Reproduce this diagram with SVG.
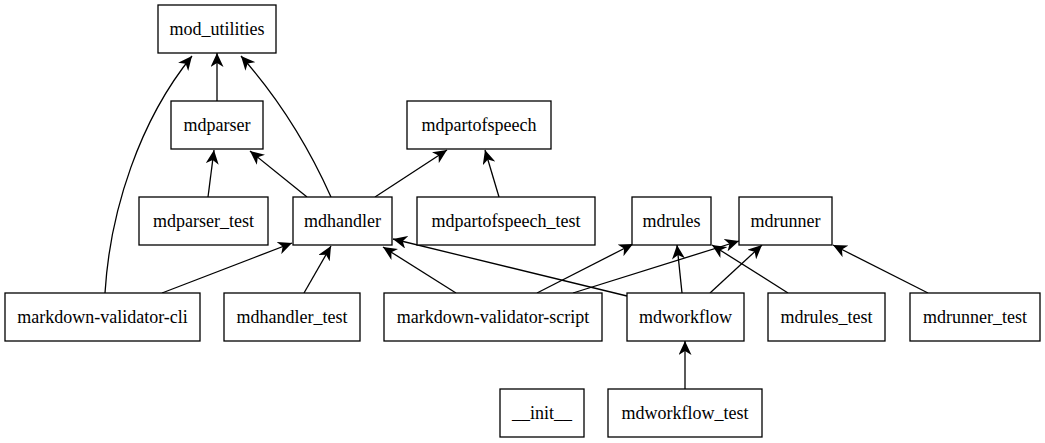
<svg xmlns="http://www.w3.org/2000/svg" width="1045" height="443" viewBox="0 0 1045 443">
<style>
.n rect{fill:#fff;stroke:#000;stroke-width:1.3}
.n text{font-size:18px;text-anchor:middle;fill:#000}
.e path{fill:none;stroke:#000;stroke-width:1.3;marker-end:url(#v)}
</style>
<defs>
<marker id="v" viewBox="0 0 14 13" refX="14" refY="6.5" markerWidth="14" markerHeight="13" markerUnits="userSpaceOnUse" orient="auto">
<path d="M14,6.5 L0,0 L4,6.5 L0,13 Z" fill="#000"/>
</marker>
</defs>
<rect width="1045" height="443" fill="#fff"/>
<g id="edges" class="e">
<path d="M217,101 L217,53"/>
<path d="M105,293 C110,210 140,120 192,56"/>
<path d="M331,197 C310,150 280,100 241,56"/>
<path d="M208,197 L214,150"/>
<path d="M307,197 L250,151"/>
<path d="M375,197 L447,150"/>
<path d="M499,197 L485,150"/>
<path d="M162,293 L292,243"/>
<path d="M304,293 L331,246"/>
<path d="M456,293 L383,247"/>
<path d="M627,296 L393,239"/>
<path d="M537,293 L633,244"/>
<path d="M573,293 L739,241"/>
<path d="M682,293 L677,245"/>
<path d="M710,293 L762,245"/>
<path d="M788,293 L712,245"/>
<path d="M928,293 L833,245"/>
<path d="M685,389 L685,341"/>
</g>
<g id="nodes" font-family="Liberation Serif, Times New Roman, serif">
<g id="mod_utilities" class="n"><rect x="158" y="5" width="118" height="48"/><text x="217" y="35">mod_utilities</text></g>
<g id="mdparser" class="n"><rect x="171" y="101" width="92" height="48"/><text x="217" y="131">mdparser</text></g>
<g id="mdpartofspeech" class="n"><rect x="407" y="101" width="144" height="48"/><text x="479" y="131">mdpartofspeech</text></g>
<g id="mdparser_test" class="n"><rect x="139" y="197" width="129" height="48"/><text x="203.5" y="227">mdparser_test</text></g>
<g id="mdhandler" class="n"><rect x="293" y="197" width="99" height="48"/><text x="342.5" y="227">mdhandler</text></g>
<g id="mdpartofspeech_test" class="n"><rect x="417" y="197" width="178" height="48"/><text x="506" y="227">mdpartofspeech_test</text></g>
<g id="mdrules" class="n"><rect x="632" y="197" width="79" height="48"/><text x="671.5" y="227">mdrules</text></g>
<g id="mdrunner" class="n"><rect x="739" y="197" width="93" height="48"/><text x="785.5" y="227">mdrunner</text></g>
<g id="markdown-validator-cli" class="n"><rect x="5" y="293" width="195" height="48"/><text x="102.5" y="323">markdown-validator-cli</text></g>
<g id="mdhandler_test" class="n"><rect x="224" y="293" width="136" height="48"/><text x="292" y="323">mdhandler_test</text></g>
<g id="markdown-validator-script" class="n"><rect x="384" y="293" width="218" height="48"/><text x="493" y="323">markdown-validator-script</text></g>
<g id="mdworkflow" class="n"><rect x="627" y="293" width="117" height="48"/><text x="685.5" y="323">mdworkflow</text></g>
<g id="mdrules_test" class="n"><rect x="768" y="293" width="117" height="48"/><text x="826.5" y="323">mdrules_test</text></g>
<g id="mdrunner_test" class="n"><rect x="910" y="293" width="130" height="48"/><text x="975" y="323">mdrunner_test</text></g>
<g id="__init__" class="n"><rect x="500" y="389" width="84" height="48"/><text x="542" y="419">__init__</text></g>
<g id="mdworkflow_test" class="n"><rect x="608" y="389" width="154" height="48"/><text x="685" y="419">mdworkflow_test</text></g>
</g>
</svg>
